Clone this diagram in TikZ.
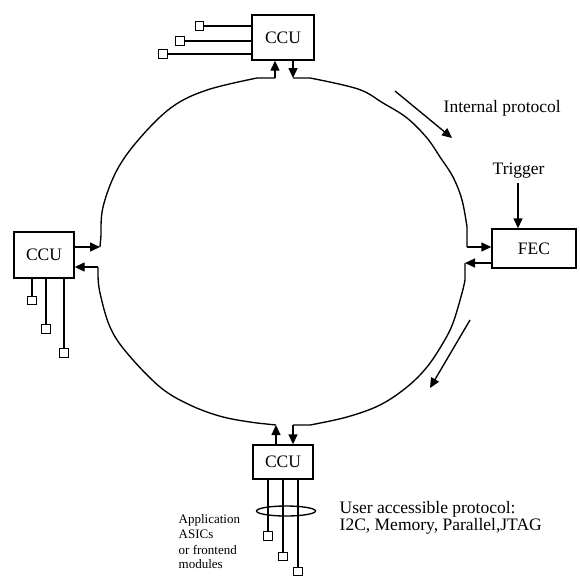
\documentclass[tikz,border=0pt]{standalone}
\usepackage{fontspec}
\setmainfont{Liberation Serif}
\usetikzlibrary{arrows.meta}
\begin{document}
\begin{tikzpicture}[x=1pt,y=-1pt,line width=1.35pt,
  box/.style={draw,inner sep=0pt,font=\fontsize{17.5}{20}\selectfont},
  sq/.style={draw,inner sep=0pt,minimum size=8.5pt},
  arr/.style={-{Triangle[length=10pt,width=9pt]}},
  lbl/.style={inner sep=0pt,anchor=base west,font=\fontsize{17.5}{20}\selectfont},
  small/.style={inner sep=0pt,anchor=base west,font=\fontsize{13}{15}\selectfont}]
\useasboundingbox (0,0) rectangle (580,576);

% boxes
\node[box,minimum width=62pt,minimum height=45pt] (tccu) at (283,37.5) {CCU};
\node[box,minimum width=60pt,minimum height=46pt] (lccu) at (44,255) {CCU};
\node[box,minimum width=84pt,minimum height=39pt] (fec) at (534,248.5) {FEC\hspace{26pt}};
\node[box,minimum width=60pt,minimum height=34pt] (bccu) at (283,462) {CCU};

% small squares
\node[sq] (s1) at (199.5,26) {};
\node[sq] (s2) at (180,41) {};
\node[sq] (s3) at (163,54) {};
\node[sq] (s4) at (32,300.5) {};
\node[sq] (s5) at (46,329) {};
\node[sq] (s6) at (64,353) {};
\node[sq] (s7) at (268,536) {};
\node[sq] (s8) at (283,556.5) {};
\node[sq] (s9) at (298,571.5) {};

% stubs
\draw (tccu.west |- s1) -- (s1.east);
\draw (tccu.west |- s2) -- (s2.east);
\draw (tccu.west |- s3) -- (s3.east);
\draw (lccu.south -| s4) -- (s4.north);
\draw (lccu.south -| s5) -- (s5.north);
\draw (lccu.south -| s6) -- (s6.north);
\draw (bccu.south -| s7) -- (s7.north);
\draw (bccu.south -| s8) -- (s8.north);
\draw (bccu.south -| s9) -- (s9.north);
\draw (286,511) ellipse [x radius=29.5pt, y radius=5pt];

% ring: top CCU -> FEC
\coordinate (a1) at (293,78);
\coordinate (a2) at (467,247);
\draw[arr] (tccu.south -| a1) -- (a1);
\draw (a1) -- plot[smooth,tension=0.6] coordinates {(310,78) (358,89) (383,103) (407,118) (427,138) (440,157) (453,177) (462,200) (467,227)} -- (a2);
\draw[arr] (a2) -- (fec.west |- a2);

% FEC -> bottom CCU
\coordinate (b1) at (465,263);
\coordinate (b2) at (293,425);
\draw[arr] (fec.west |- b1) -- (b1);
\draw (b1) -- plot[smooth,tension=0.6] coordinates {(465,280) (462,293) (453,323) (443,343) (427,367) (407,387) (380,405) (347,417) (310,425)} -- (b2);
\draw[arr] (b2) -- (bccu.north -| b2);

% bottom CCU -> left CCU
\coordinate (c1) at (276,425);
\coordinate (c2) at (98,267);
\draw[arr] (bccu.north -| c1) -- (c1);
\draw (c1) -- plot[smooth,tension=0.6] coordinates {(257,423) (223,417) (190,405) (160,387) (127,353) (110,327) (100,293) (98,275)} -- (c2);
\draw[arr] (c2) -- (lccu.east |- c2);

% left CCU -> top CCU
\coordinate (d1) at (100,247);
\coordinate (d2) at (275,78);
\draw[arr] (lccu.east |- d1) -- (d1);
\draw (d1) -- plot[smooth,tension=0.6] coordinates {(101,235) (103,207) (117,170) (140,138) (172,107) (207,90) (257,78)} -- (d2);
\draw[arr] (d2) -- (tccu.south -| d2);

% trigger
\node[lbl] (trig) at (492,174) {Trigger};
\coordinate (tg) at (518,183);
\draw[arr] (tg) -- (tg |- fec.north);

% direction arrows
\coordinate (ip1) at (395,91);
\coordinate (ip2) at (452,138);
\draw[arr] (ip1) -- (ip2);
\coordinate (dr1) at (470,320);
\coordinate (dr2) at (430,388);
\draw[arr] (dr1) -- (dr2);

% labels
\node[lbl] (ip) at (443,112) {Internal protocol};
\node[lbl] (ua1) at (339,513) {User accessible protocol:};
\node[lbl] (ua2) at (339,530) {I2C, Memory, Parallel,JTAG};
\node[small] (ap1) at (178,523) {Application};
\node[small] (ap2) at (178,538) {ASICs};
\node[small] (ap3) at (178,554) {or frontend};
\node[small] (ap4) at (178,568) {modules};
\end{tikzpicture}
\end{document}
